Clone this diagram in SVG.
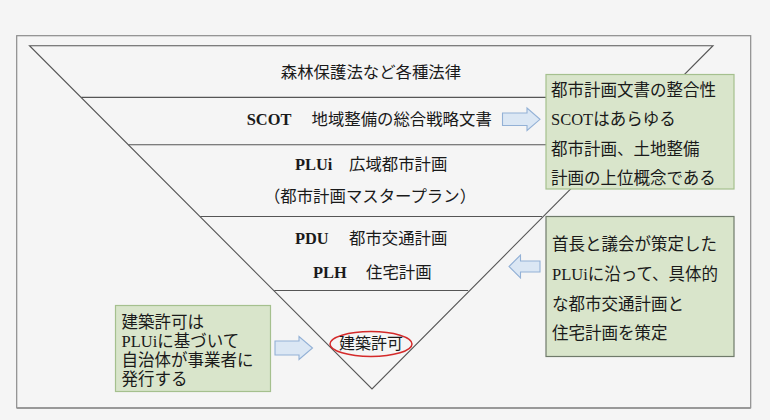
<svg xmlns="http://www.w3.org/2000/svg" width="770" height="420" viewBox="0 0 770 420">
<style>
  text { font-family: "Liberation Serif", "Noto Sans CJK JP", serif; fill: #1a1a1a; }
  .p { font-size: 16.4px; }
  .bx { font-size: 16.5px; }
  .b { font-weight: bold; }
  .ln { stroke: #555; stroke-width: 1.1; fill: none; }
  .green { fill: #d9e5cb; stroke: #a5c08e; stroke-width: 1.2; }
  .green2 { fill: #d9e5cb; stroke: #6f7a6a; stroke-width: 1.2; }
  .arrow { fill: #dbe7f4; stroke: #93b1d6; stroke-width: 1.1; }
</style>
<rect x="0" y="0" width="770" height="420" fill="#f5f5f5"/>
<g id="frame">
  <rect x="16.7" y="35.7" width="734" height="372" fill="#f5f5f5" stroke="#8c8c8c" stroke-width="1.2"/>
  <line x1="16.7" y1="408" x2="750.7" y2="408" stroke="#999" stroke-width="2"/>
</g>
<g id="pyramid">
  <polygon class="ln" points="29.5,45.7 713,45.7 372,389"/>
  <line class="ln" x1="81.3" y1="97.4" x2="661.2" y2="97.4"/>
  <line class="ln" x1="128.5" y1="144.7" x2="614" y2="144.7"/>
  <line class="ln" x1="200.3" y1="216.5" x2="542.2" y2="216.5"/>
  <line class="ln" x1="274.3" y1="290.5" x2="468.2" y2="290.5"/>
</g>
<g id="level-laws">
  <text class="p" x="371" y="78" text-anchor="middle">森林保護法など各種法律</text>
</g>
<g id="level-scot">
  <text class="p" y="125"><tspan class="b" x="246.7">SCOT</tspan><tspan x="311.5">地域整備の総合戦略文書</tspan></text>
</g>
<g id="level-plui">
  <text class="p" y="170"><tspan class="b" x="295">PLUi</tspan><tspan x="349">広域都市計画</tspan></text>
  <text class="p" x="370" y="202" text-anchor="middle">（都市計画マスタープラン）</text>
</g>
<g id="level-pdu-plh">
  <text class="p" y="244"><tspan class="b" x="295">PDU</tspan><tspan x="349">都市交通計画</tspan></text>
  <text class="p" y="278"><tspan class="b" x="313">PLH</tspan><tspan x="366">住宅計画</tspan></text>
</g>
<g id="level-permit">
  <ellipse cx="371" cy="344" rx="41" ry="12.5" fill="none" stroke="#d42a2a" stroke-width="1.5"/>
  <text class="p" x="371" y="348.5" text-anchor="middle" style="font-size:16px">建築許可</text>
</g>
<g id="connectors">
  <path class="arrow" d="M502.5,113 H527 V108 L540,119.3 L527,130.5 V125.5 H502.5 Z"/>
  <path class="arrow" d="M540,261 H520.5 V255 L509,266.5 L520.5,278 V272 H540 Z"/>
  <path class="arrow" d="M275,341 H299 V336.5 L312.5,348 L299,359.5 V355 H275 Z"/>
</g>
<g id="note-scot">
  <rect class="green" x="546" y="74.5" width="188" height="114.5"/>
  <text class="bx" x="551" y="95.5">都市計画文書の整合性</text>
  <text class="bx" x="551" y="125">SCOTはあらゆる</text>
  <text class="bx" x="551" y="154.5">都市計画、土地整備</text>
  <text class="bx" x="551" y="184">計画の上位概念である</text>
</g>
<g id="note-pdu">
  <rect class="green2" x="546" y="216.5" width="188" height="140"/>
  <text class="bx" x="552" y="250">首長と議会が策定した</text>
  <text class="bx" x="552" y="280">PLUiに沿って、具体的</text>
  <text class="bx" x="552" y="309.5">な都市交通計画と</text>
  <text class="bx" x="552" y="338.5">住宅計画を策定</text>
</g>
<g id="note-permit">
  <rect class="green" x="115.5" y="305.5" width="155" height="86"/>
  <text class="bx" x="121.5" y="327.5">建築許可は</text>
  <text class="bx" x="121.5" y="346.5">PLUiに基づいて</text>
  <text class="bx" x="121.5" y="365.5">自治体が事業者に</text>
  <text class="bx" x="121.5" y="384.5">発行する</text>
</g>
</svg>
